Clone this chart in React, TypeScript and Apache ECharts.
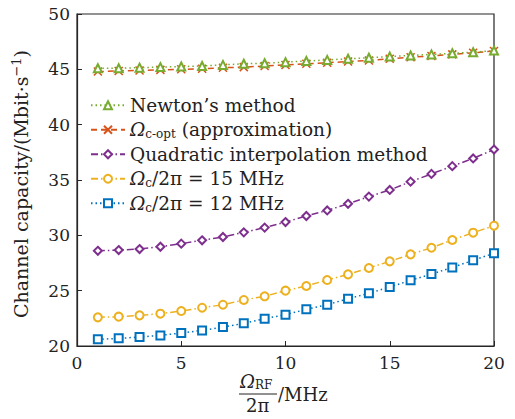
import React, { useEffect, useRef } from "react";
import * as echarts from "echarts";

const xValues = [1, 2, 3, 4, 5, 6, 7, 8, 9, 10, 11, 12, 13, 14, 15, 16, 17, 18, 19, 20];
const newton = [45.1, 45.1, 45.15, 45.2, 45.25, 45.3, 45.4, 45.5, 45.55, 45.65, 45.75, 45.85, 45.95, 46.05, 46.15, 46.25, 46.35, 46.45, 46.55, 46.7];
const approx = [44.8, 44.85, 44.9, 44.95, 45.0, 45.05, 45.15, 45.2, 45.3, 45.4, 45.5, 45.6, 45.7, 45.8, 45.95, 46.1, 46.2, 46.35, 46.5, 46.65];
const quadratic = [28.6, 28.67, 28.76, 28.97, 29.25, 29.55, 29.85, 30.27, 30.7, 31.2, 31.75, 32.25, 32.85, 33.5, 34.1, 34.85, 35.55, 36.25, 36.95, 37.75];
const mhz15 = [22.59, 22.65, 22.77, 22.92, 23.16, 23.46, 23.73, 24.16, 24.49, 25.0, 25.42, 25.96, 26.47, 27.05, 27.65, 28.28, 28.88, 29.58, 30.24, 30.87];
const mhz12 = [20.6, 20.69, 20.81, 20.96, 21.17, 21.41, 21.71, 22.05, 22.47, 22.83, 23.31, 23.73, 24.27, 24.76, 25.33, 25.93, 26.5, 27.1, 27.74, 28.38];
const seriesNames = ["newton", "approx", "quadratic", "mhz15", "mhz12"];
const legendLabels: Record<string, string> = {
  newton: "Newton\u2019s method",
  approx: "{it|\u03A9}{sub|c-opt} (approximation)",
  quadratic: "Quadratic interpolation method",
  mhz15: "{it|\u03A9}{sub|c}/2\u03C0 = 15 MHz",
  mhz12: "{it|\u03A9}{sub|c}/2\u03C0 = 12 MHz",
};
const yTitle = "Channel capacity/(Mbit\u00B7s{sup|\u22121})";

const FONT = "DejaVu Serif";
const AXIS = "#262626";

const pairs = (ys: number[]) => xValues.map((x, i) => [x, ys[i]]);

export default function App() {
  const ref = useRef<HTMLDivElement>(null);
  useEffect(() => {
    if (!ref.current) return;
    const chart = echarts.init(ref.current, undefined, { renderer: "svg" });
    const mk = (name: string, data: number[], color: string, type: any, symbol: string, z: number) => ({
      name,
      type: "line",
      data: pairs(data),
      z,
      symbol,
      symbolSize: 8,
      showSymbol: true,
      lineStyle: { color, width: 1.5, type },
      itemStyle: symbol.startsWith("path")
        ? { color, borderColor: color, borderWidth: 1.5 }
        : { color, borderColor: color, borderWidth: 1.3 },
    });
    const dotted = [1.5, 3];
    const dashed = [6, 4];
    const dashDot = [7, 3, 1.5, 3];
    chart.setOption({
      animation: false,
      backgroundColor: "#fff",
      grid: { left: 77, right: 21, top: 14, bottom: 73, show: true, borderColor: AXIS, borderWidth: 1.2, backgroundColor: "transparent" },
      xAxis: {
        type: "value",
        min: 0,
        max: 20,
        interval: 5,
        axisLine: { lineStyle: { color: AXIS, width: 1.2 } },
        axisTick: { inside: true, length: 5, lineStyle: { color: AXIS } },
        splitLine: { show: false },
        axisLabel: { color: "#222", fontFamily: FONT, fontSize: 17, margin: 8 },
      },
      yAxis: {
        type: "value",
        min: 20,
        max: 50,
        interval: 5,
        axisLine: { lineStyle: { color: AXIS, width: 1.2 } },
        axisTick: { inside: true, length: 5, lineStyle: { color: AXIS } },
        splitLine: { show: false },
        axisLabel: { color: "#222", fontFamily: FONT, fontSize: 17, margin: 7 },
      },
      legend: {
        orient: "vertical",
        left: 85,
        top: 90,
        itemWidth: 34,
        itemHeight: 10,
        itemGap: 4,
        data: seriesNames,
        formatter: (n: string) => legendLabels[n],
        textStyle: {
          color: "#222",
          fontFamily: FONT,
          fontSize: 18.5,
          lineHeight: 20.5,
          rich: {
            it: { fontFamily: FONT, fontStyle: "italic", fontSize: 18.5, color: "#222" },
            sub: { fontFamily: FONT, fontSize: 12, verticalAlign: "bottom", padding: [7, 0, 0, 0], color: "#222" },
          },
        },
      },
      series: [
        mk("mhz12", mhz12, "#0072BD", dotted, "emptyRect", 2),
        mk("mhz15", mhz15, "#EDB120", dashDot, "emptyCircle", 3),
        mk("quadratic", quadratic, "#7E2F8E", dashDot, "emptyDiamond", 4),
        mk("approx", approx, "#D95319", dashed, "path://M0 0L10 10M10 0L0 10", 5),
        mk("newton", newton, "#77AC30", dotted, "emptyTriangle", 6),
      ],
      graphic: [
        {
          type: "text",
          x: 21,
          y: 184,
          rotation: Math.PI / 2,
          style: {
            text: yTitle,
            fontFamily: FONT,
            fontSize: 19,
            fill: "#222",
            align: "center",
            verticalAlign: "middle",
            rich: { sup: { fontFamily: FONT, fontSize: 13, verticalAlign: "top", padding: [0, 0, 9, 0], fill: "#222" } },
          },
        },
        {
          type: "text",
          left: 240,
          top: 372,
          style: {
            text: "{it|\u03A9}{sub|RF}",
            fontFamily: FONT,
            fontSize: 18,
            fill: "#222",
            rich: {
              it: { fontFamily: FONT, fontStyle: "italic", fontSize: 18, fill: "#222" },
              sub: { fontFamily: FONT, fontSize: 12, verticalAlign: "bottom", padding: [7, 0, 0, 0], fill: "#222" },
            },
          },
        },
        { type: "line", shape: { x1: 239, y1: 394, x2: 277, y2: 394 }, style: { stroke: "#222", lineWidth: 1 } },
        {
          type: "text",
          left: 246,
          top: 396,
          style: { text: "2\u03C0", fontFamily: FONT, fontSize: 18, fill: "#222" },
        },
        {
          type: "text",
          left: 278,
          top: 385,
          style: { text: "/MHz", fontFamily: FONT, fontSize: 18, fill: "#222" },
        },
      ],
    });
    return () => chart.dispose();
  }, []);
  return <div ref={ref} style={{ width: 515, height: 419, position: "absolute", left: 0, top: 0 }} />;
}
